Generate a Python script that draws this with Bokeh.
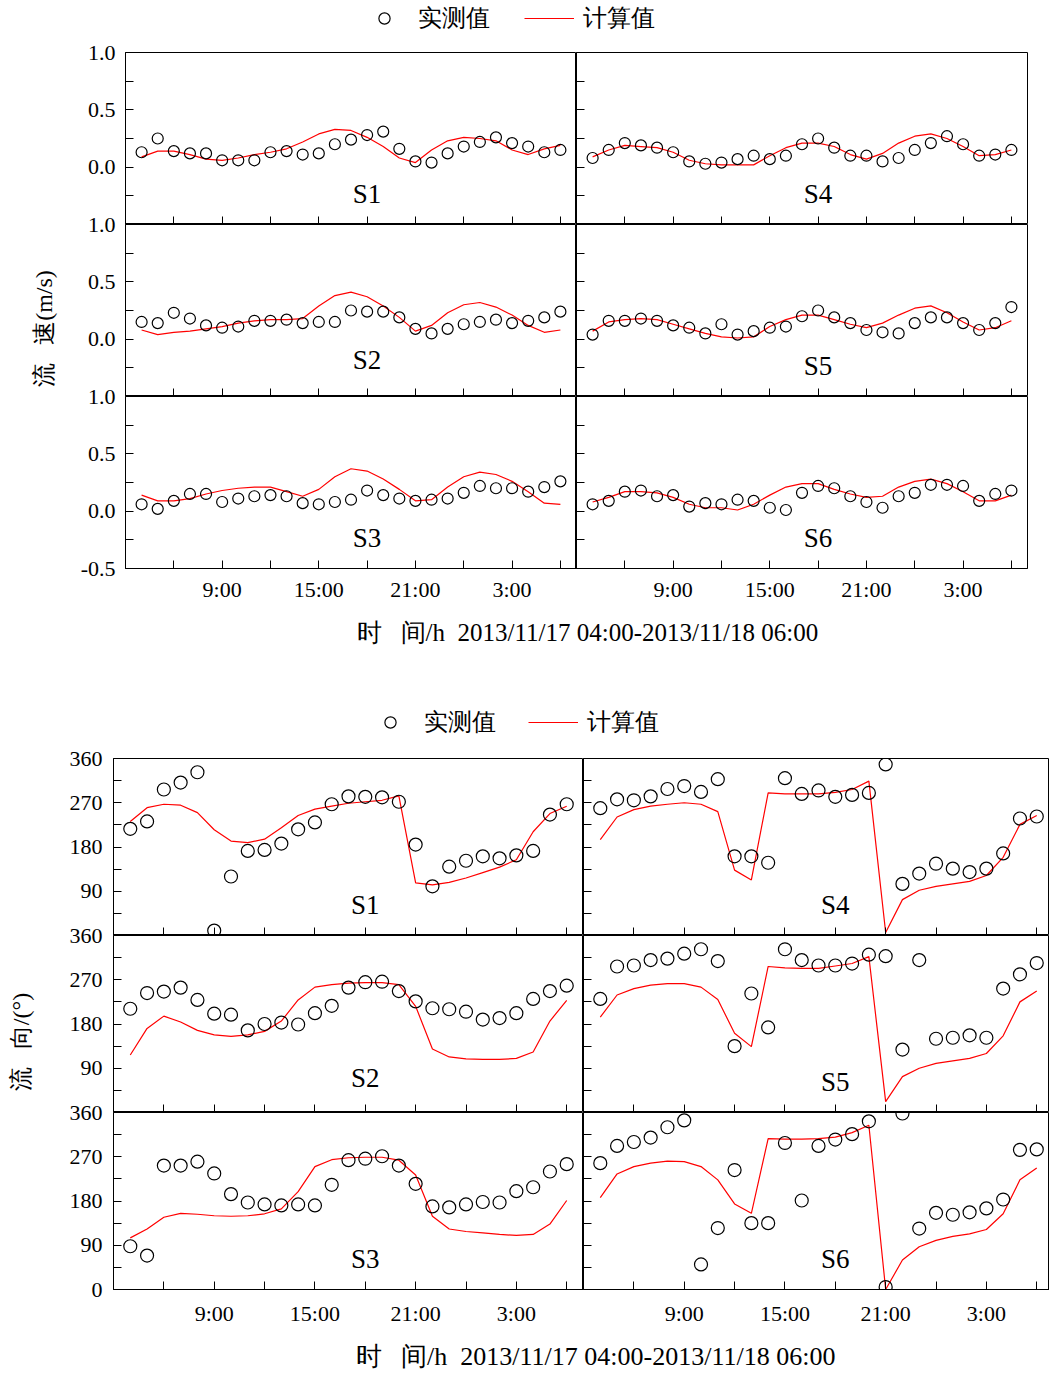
from bokeh.plotting import figure
from bokeh.layouts import column, row
from bokeh.models import (FixedTicker, PrintfTickFormatter, Label, Legend, LegendItem, Range1d,
                          CustomLabelingPolicy)
from bokeh.embed import file_html
from bokeh.resources import INLINE

FONT = "Liberation Serif"

# ---------------- data ----------------
HOURS = [4, 5, 6, 7, 8, 9, 10, 11, 12, 13, 14, 15, 16, 17, 18, 19, 20, 21, 22, 23, 24, 25, 26, 27, 28, 29, 30]
TICK_HOURS = [9, 15, 21, 27]
TICK_LABELS = ["9:00", "15:00", "21:00", "3:00"]
MINOR_HOURS = [6, 12, 18, 24, 30]

SPEED_TICKS = [-0.5, 0.0, 0.5, 1.0]
SPEED_MINOR = [-0.25, 0.25, 0.75]
DIR_TICKS = [0, 90, 180, 270, 360]
DIR_MINOR = [45, 135, 225, 315]

# current speed (m/s): observed circles / computed line
S1_SPEED_OBS = [0.13, 0.25, 0.14, 0.12, 0.12, 0.06, 0.06, 0.06, 0.13, 0.14, 0.11, 0.12, 0.20, 0.24, 0.28, 0.31, 0.16, 0.05, 0.04, 0.12, 0.18, 0.22, 0.26, 0.21, 0.18, 0.13, 0.15]
S1_SPEED_CAL = [0.09, 0.14, 0.14, 0.11, 0.07, 0.06, 0.08, 0.11, 0.13, 0.16, 0.22, 0.29, 0.33, 0.32, 0.26, 0.18, 0.08, 0.04, 0.15, 0.23, 0.26, 0.25, 0.23, 0.15, 0.11, 0.16, 0.19]
S2_SPEED_OBS = [0.15, 0.14, 0.23, 0.18, 0.12, 0.10, 0.11, 0.16, 0.16, 0.17, 0.14, 0.15, 0.15, 0.25, 0.24, 0.24, 0.19, 0.09, 0.05, 0.09, 0.13, 0.15, 0.17, 0.14, 0.16, 0.19, 0.24]
S2_SPEED_CAL = [0.08, 0.04, 0.06, 0.07, 0.09, 0.11, 0.14, 0.16, 0.17, 0.17, 0.18, 0.29, 0.38, 0.41, 0.37, 0.29, 0.19, 0.07, 0.12, 0.23, 0.30, 0.32, 0.28, 0.21, 0.12, 0.06, 0.08]
S3_SPEED_OBS = [0.06, 0.02, 0.09, 0.15, 0.15, 0.08, 0.11, 0.13, 0.14, 0.13, 0.07, 0.06, 0.08, 0.10, 0.18, 0.14, 0.11, 0.09, 0.10, 0.11, 0.16, 0.22, 0.20, 0.20, 0.17, 0.21, 0.26]
S3_SPEED_CAL = [0.14, 0.09, 0.09, 0.11, 0.15, 0.18, 0.20, 0.21, 0.21, 0.17, 0.13, 0.19, 0.30, 0.37, 0.35, 0.28, 0.19, 0.09, 0.10, 0.21, 0.30, 0.34, 0.32, 0.26, 0.17, 0.07, 0.06]
S4_SPEED_OBS = [0.08, 0.15, 0.21, 0.19, 0.17, 0.13, 0.05, 0.03, 0.04, 0.07, 0.10, 0.07, 0.10, 0.20, 0.25, 0.17, 0.10, 0.10, 0.05, 0.08, 0.15, 0.21, 0.27, 0.20, 0.10, 0.11, 0.15]
S4_SPEED_CAL = [0.09, 0.15, 0.19, 0.18, 0.17, 0.13, 0.06, 0.03, 0.02, 0.02, 0.02, 0.10, 0.17, 0.21, 0.21, 0.18, 0.11, 0.07, 0.12, 0.21, 0.27, 0.29, 0.25, 0.18, 0.10, 0.11, 0.15]
S5_SPEED_OBS = [0.04, 0.16, 0.16, 0.18, 0.16, 0.12, 0.10, 0.05, 0.13, 0.04, 0.07, 0.10, 0.11, 0.20, 0.25, 0.19, 0.14, 0.08, 0.06, 0.05, 0.14, 0.19, 0.19, 0.14, 0.08, 0.14, 0.28]
S5_SPEED_CAL = [0.07, 0.15, 0.17, 0.18, 0.17, 0.13, 0.09, 0.05, 0.02, 0.01, 0.02, 0.11, 0.17, 0.21, 0.21, 0.17, 0.13, 0.10, 0.14, 0.21, 0.27, 0.29, 0.23, 0.15, 0.08, 0.10, 0.16]
S6_SPEED_OBS = [0.06, 0.09, 0.17, 0.18, 0.13, 0.14, 0.04, 0.07, 0.06, 0.10, 0.09, 0.03, 0.01, 0.16, 0.22, 0.20, 0.13, 0.08, 0.03, 0.13, 0.16, 0.23, 0.23, 0.22, 0.09, 0.15, 0.18]
S6_SPEED_CAL = [0.08, 0.12, 0.17, 0.17, 0.16, 0.12, 0.06, 0.03, 0.03, 0.01, 0.06, 0.14, 0.21, 0.24, 0.24, 0.19, 0.15, 0.12, 0.13, 0.21, 0.26, 0.28, 0.24, 0.17, 0.09, 0.09, 0.14]

# current direction (degrees): observed circles / computed line
S1_DIR_OBS = [217, 232, 297, 311, 332, 10, 120, 172, 174, 187, 216, 230, 267, 283, 282, 281, 272, 185, 100, 140, 152, 161, 157, 163, 172, 246, 267]
S1_DIR_CAL = [232, 260, 267, 265, 250, 215, 192, 189, 196, 219, 244, 257, 263, 269, 272, 275, 284, 107, 103, 108, 117, 128, 139, 154, 211, 248, 263]
S2_DIR_OBS = [211, 243, 246, 254, 229, 201, 199, 167, 180, 183, 179, 202, 217, 254, 265, 266, 247, 226, 212, 210, 205, 189, 192, 202, 231, 247, 258]
S2_DIR_CAL = [117, 171, 196, 184, 167, 158, 155, 158, 165, 186, 229, 255, 260, 263, 264, 264, 260, 216, 129, 113, 109, 108, 108, 110, 123, 186, 228]
S3_DIR_OBS = [88, 69, 252, 252, 260, 236, 194, 177, 173, 171, 173, 171, 213, 263, 266, 271, 252, 215, 169, 167, 173, 178, 177, 200, 208, 240, 255]
S3_DIR_CAL = [105, 123, 147, 155, 153, 150, 149, 150, 154, 164, 199, 250, 264, 268, 269, 269, 263, 233, 149, 123, 118, 115, 112, 110, 112, 133, 181]
S4_DIR_OBS = [259, 277, 275, 283, 298, 304, 292, 318, 161, 161, 148, 320, 288, 295, 282, 286, 290, 348, 105, 126, 146, 136, 129, 136, 167, 238, 242]
S4_DIR_CAL = [195, 241, 256, 263, 267, 270, 267, 252, 133, 113, 290, 288, 288, 288, 291, 297, 314, 6, 73, 92, 100, 105, 110, 122, 159, 226, 244]
S5_DIR_OBS = [231, 297, 299, 310, 313, 323, 332, 308, 135, 242, 173, 332, 310, 299, 299, 303, 321, 318, 128, 310, 150, 152, 157, 152, 252, 281, 304]
S5_DIR_CAL = [194, 239, 252, 259, 262, 262, 255, 230, 161, 134, 297, 294, 293, 293, 298, 303, 317, 22, 73, 90, 100, 105, 110, 120, 156, 225, 247]
S6_DIR_OBS = [257, 292, 300, 309, 330, 344, 51, 125, 243, 135, 135, 298, 181, 292, 305, 316, 342, 5, 358, 124, 156, 152, 157, 165, 183, 284, 285]
S6_DIR_CAL = [187, 235, 250, 257, 261, 260, 250, 223, 174, 155, 307, 306, 306, 307, 310, 319, 334, 0, 60, 87, 100, 108, 113, 122, 154, 223, 247]

STATIONS_LEFT = ["S1", "S2", "S3"]
STATIONS_RIGHT = ["S4", "S5", "S6"]
SPEED = {"S1": (S1_SPEED_OBS, S1_SPEED_CAL), "S2": (S2_SPEED_OBS, S2_SPEED_CAL), "S3": (S3_SPEED_OBS, S3_SPEED_CAL),
         "S4": (S4_SPEED_OBS, S4_SPEED_CAL), "S5": (S5_SPEED_OBS, S5_SPEED_CAL), "S6": (S6_SPEED_OBS, S6_SPEED_CAL)}
DIRECTION = {"S1": (S1_DIR_OBS, S1_DIR_CAL), "S2": (S2_DIR_OBS, S2_DIR_CAL), "S3": (S3_DIR_OBS, S3_DIR_CAL),
             "S4": (S4_DIR_OBS, S4_DIR_CAL), "S5": (S5_DIR_OBS, S5_DIR_CAL), "S6": (S6_DIR_OBS, S6_DIR_CAL)}

LEGEND_OBS = "实测值"
LEGEND_CAL = "计算值"
SPEED_YTITLE = "流\u00a0\u00a0\u00a0速(m/s)" + "\u00a0" * 6
DIR_YTITLE = "流\u00a0\u00a0\u00a0向/(°)" + "\u00a0" * 6
XTITLE = "时\u00a0\u00a0\u00a0间/h\u00a0\u00a02013/11/17 04:00-2013/11/18 06:00"

NAN = float("nan")


def no_labels():
    return CustomLabelingPolicy(code="""
        const result = new Set()
        return result
    """)


def style_axis(ax, font_px):
    ax.axis_line_color = "black"
    ax.axis_line_width = 1
    ax.major_tick_in = 8
    ax.major_tick_out = 0
    ax.minor_tick_in = 8
    ax.minor_tick_out = 0
    ax.major_tick_line_color = "black"
    ax.minor_tick_line_color = "black"
    ax.major_label_text_font = FONT
    ax.major_label_text_font_size = font_px
    ax.major_label_text_color = "black"


def make_panel(kind, station, col, rowi):
    speed = kind == "speed"
    if speed:
        fw, fh = 451, 172
        x_end = 31
        border_left = 125 if col == 0 else 0
        border_right = 2 if col == 1 else 0
        border_bottom = 44 if rowi == 2 else 0
        yr = (-0.5, 1.0)
        obs, cal = SPEED[station]
        msize = 11
    else:
        fw = 470 if col == 0 else 466
        fh = 177
        x_end = 31 if col == 0 else 30.76
        border_left = 113 if col == 0 else 0
        border_right = 0
        border_bottom = 41 if rowi == 2 else 0
        yr = (0, 360)
        obs, cal = DIRECTION[station]
        msize = 13

    p = figure(frame_width=fw, frame_height=fh, x_range=Range1d(3, x_end), y_range=Range1d(*yr),
               output_backend="svg", toolbar_location=None,
               min_border_left=border_left, min_border_right=border_right,
               min_border_top=12, min_border_bottom=border_bottom)
    p.border_fill_color = None
    p.background_fill_color = None
    p.outline_line_color = "black"
    p.outline_line_width = 1
    p.grid.visible = False

    xa = p.xaxis[0]
    ya = p.yaxis[0]
    style_axis(xa, "22px")
    style_axis(ya, "22px")
    xa.ticker = FixedTicker(ticks=TICK_HOURS, minor_ticks=MINOR_HOURS)
    xa.major_label_overrides = dict(zip(TICK_HOURS, TICK_LABELS))
    if speed:
        ya.ticker = FixedTicker(ticks=SPEED_TICKS, minor_ticks=SPEED_MINOR)
        ya.formatter = PrintfTickFormatter(format="%.1f")
        if rowi < 2:
            ya.major_label_overrides = {SPEED_TICKS[0]: ""}
        xa.major_label_standoff = 8
        ya.major_label_standoff = 10
    else:
        ya.ticker = FixedTicker(ticks=DIR_TICKS, minor_ticks=DIR_MINOR)
        ya.formatter = PrintfTickFormatter(format="%d")
        if rowi < 2:
            ya.major_label_overrides = {DIR_TICKS[0]: ""}
        xa.major_label_standoff = 11
        ya.major_label_standoff = 11
    if rowi < 2:
        xa.major_label_text_font_size = "0px"
        xa.major_label_standoff = 0
        xa.major_label_policy = no_labels()
    if col == 1:
        ya.major_label_text_font_size = "0px"
        ya.major_label_standoff = 0
        ya.major_label_policy = no_labels()

    p.line(HOURS, cal, line_color="red", line_width=1.2)
    p.scatter(HOURS, obs, marker="circle", size=msize, line_color="black",
              fill_color=None, line_width=1.2)

    if speed:
        ly = -0.18 if station == "S2" else -0.23
    else:
        ly = 71 if station == "S2" else 62
    p.add_layout(Label(x=18, y=ly, text=station, text_align="center", text_baseline="middle",
                       text_font=FONT, text_font_size="27px", text_color="black"))

    if col == 0 and rowi == 1:
        ya.axis_label = SPEED_YTITLE if speed else DIR_YTITLE
        ya.axis_label_text_font = FONT
        ya.axis_label_text_font_size = "24px"
        ya.axis_label_text_font_style = "normal"
        ya.axis_label_text_color = "black"
        ya.axis_label_standoff = 28 if speed else 33
    return p


def blank_fig(width, height):
    f = figure(width=width, height=height, x_range=Range1d(0, width), y_range=Range1d(0, height),
               min_border=0, toolbar_location=None, output_backend="svg")
    f.axis.visible = False
    f.grid.visible = False
    f.outline_line_color = None
    f.border_fill_color = None
    f.background_fill_color = None
    return f


def legend_fig(width, height, lx, ly, spacing):
    f = blank_fig(width, height)
    # legend-only renderers (no visible data inside the frame)
    r_obs = f.scatter(x=[NAN], y=[NAN], marker="circle", size=12, line_color="black",
                      fill_color=None, line_width=1.2)
    r_cal = f.line(x=[NAN, NAN], y=[NAN, NAN], line_color="red", line_width=1.2)
    leg = Legend(items=[LegendItem(label=LEGEND_OBS, renderers=[r_obs]),
                        LegendItem(label=LEGEND_CAL, renderers=[r_cal])],
                 location=(lx, ly), orientation="horizontal", glyph_width=50, glyph_height=28,
                 label_standoff=9, spacing=spacing, padding=0, margin=0,
                 border_line_color=None, background_fill_alpha=0,
                 label_text_font=FONT, label_text_font_size="24px", label_text_color="black")
    f.add_layout(leg)
    return f


def footer_fig(width, height, cx, cy, size):
    f = blank_fig(width, height)
    f.add_layout(Label(x=cx, y=cy, text=XTITLE, text_align="center", text_baseline="middle",
                       text_font=FONT, text_font_size=size, text_color="black"))
    return f


def group(kind):
    rows = []
    for i in range(3):
        left = make_panel(kind, STATIONS_LEFT[i], 0, i)
        right = make_panel(kind, STATIONS_RIGHT[i], 1, i)
        if i == 0:
            rows.append(row(left, right))
        else:
            rows.append(row(left, right, margin=(-12, 0, 0, 0)))
    return rows


top_legend = legend_fig(1029, 40, 359, 6, 34)
top_rows = group("speed")
top_footer = footer_fig(1029, 40, 587, 20, "25px")
bottom_legend = legend_fig(1049, 94, 365, 8, 32)
bottom_rows = group("direction")
bottom_footer = footer_fig(1049, 40, 595, 14, "26px")

layout = column(top_legend, *top_rows, top_footer, bottom_legend, *bottom_rows, bottom_footer)

open("out.html", "w").write(file_html(layout, INLINE))
